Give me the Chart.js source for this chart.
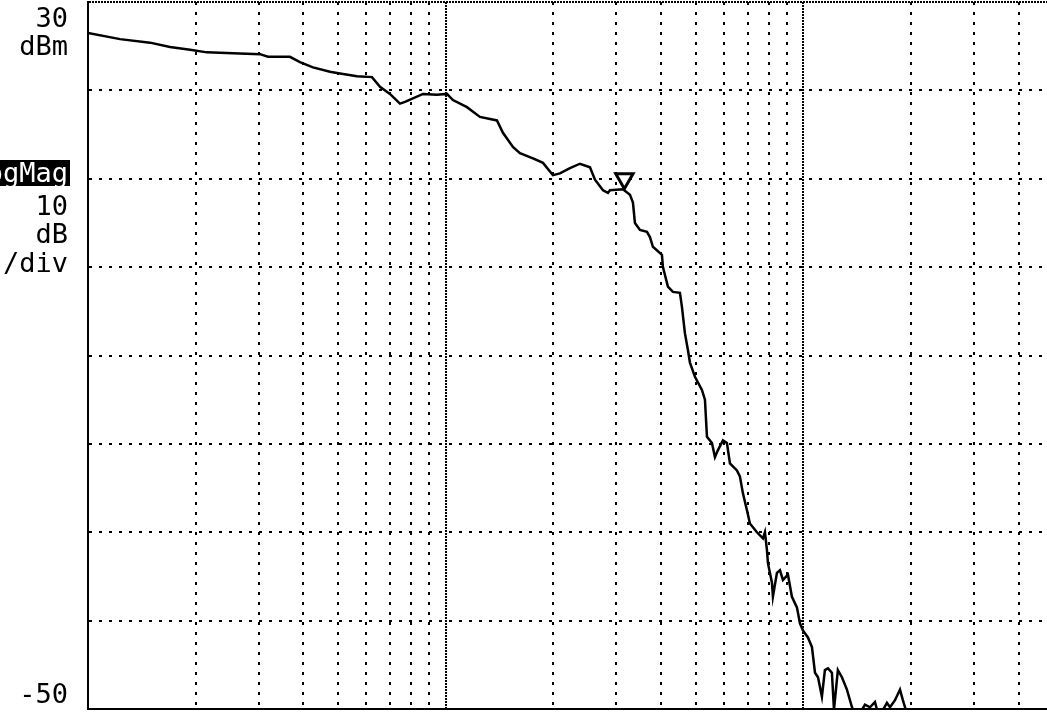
<!DOCTYPE html>
<html>
<head>
<meta charset="utf-8">
<script src="https://cdn.jsdelivr.net/npm/chart.js@4/dist/chart.umd.min.js"></script>
<style>
  html, body { margin: 0; padding: 0; background: #fff; overflow: hidden; }
  #wrap { width: 1047px; height: 715px; overflow: hidden; position: relative; }
  canvas { display: block; }
</style>
</head>
<body>
<div id="wrap">
  <canvas id="traceChart" width="1165" height="715"></canvas>
</div>
<script>
// trace (log frequency, relative units)
const freq = [1.000, 1.229, 1.491, 1.695, 1.929, 2.151, 2.543, 3.026, 3.186, 3.670,
  3.914, 4.256, 4.749, 5.064, 5.649, 6.223, 6.552, 6.986, 7.451, 7.695,
  8.101, 8.642, 9.455, 10.08, 10.48, 11.47, 12.47, 13.91, 14.46, 15.42,
  16.13, 17.54, 18.71, 19.95, 20.87, 22.26, 23.74, 25.32, 26.15, 27.54,
  28.43, 28.80, 31.31, 32.75, 33.39, 33.82, 34.93, 36.54, 37.25, 37.97,
  40.24, 40.50, 41.82, 43.19, 45.19, 45.77, 46.67, 47.58, 48.19, 49.77,
  52.06, 53.08, 53.77, 55.53, 56.61, 57.72, 59.60, 61.15, 62.35, 65.22,
  66.49, 67.78, 69.55, 70.90, 74.18, 77.11, 78.10, 79.11, 79.62, 81.70,
  82.22, 84.37, 86.02, 87.70, 90.57, 92.92, 95.96, 97.84, 99.75, 103.0,
  105.7, 107.8, 109.9, 112.7, 114.9, 117.2, 120.2, 121.8, 124.9, 128.2,
  132.4, 136.8, 139.4, 143.9, 148.7, 153.6, 158.6, 161.7, 167.0, 171.3,
  174.7, 180.4, 186.3, 189.8, 194.8];
const magDb = [26.5, 25.8, 25.4, 24.9, 24.6, 24.3, 24.2, 24.1, 23.8, 23.8,
  23.2, 22.6, 22.1, 21.9, 21.6, 21.5, 20.4, 19.6, 18.5, 18.7,
  19.1, 19.6, 19.5, 19.6, 18.9, 18.1, 17.0, 16.6, 15.2, 13.6,
  12.9, 12.3, 11.8, 10.4, 10.6, 11.2, 11.7, 11.3, 9.9, 8.7,
  8.4, 8.7, 8.8, 8.2, 7.3, 5.0, 4.2, 4.0, 3.4, 2.3,
  1.4, 0.0, -2.2, -2.8, -2.9, -4.5, -7.5, -9.4, -10.8, -12.4,
  -13.9, -15.0, -19.2, -19.9, -21.5, -20.7, -19.6, -19.9, -22.2, -23.0,
  -23.7, -25.6, -27.5, -29.0, -30.0, -30.7, -30.0, -32.0, -33.5, -35.7,
  -37.3, -34.6, -34.3, -35.4, -34.8, -37.3, -38.5, -40.3, -41.1, -41.9,
  -43.0, -45.9, -46.4, -48.6, -45.6, -45.4, -45.9, -50.1, -45.6, -46.4,
  -47.8, -49.8, -50.5, -50.5, -49.5, -49.8, -49.2, -50.5, -50.1, -49.3,
  -49.8, -49.0, -47.8, -49.0, -50.5];

const markerFreq = [31.6];
const markerDb = [10.0];

const xGridValues = [1, 2, 3, 4, 5, 6, 7, 8, 9,
  10, 20, 30, 40, 50, 60, 70, 80, 90,
  100, 200, 300, 400, 500, 600, 700, 800, 900, 1000];
const yTop = 30;
const yBottom = -50;
const yStep = 10;

function isDecade(v) {
  const e = Math.log10(v);
  return Math.abs(e - Math.round(e)) < 1e-9;
}

const sideLabels = {
  id: 'sideLabels',
  afterDraw(chart) {
    const ctx = chart.ctx;
    const area = chart.chartArea;
    const rx = area.left - 20;
    ctx.save();
    ctx.font = '27px "DejaVu Sans Mono"';
    ctx.textAlign = 'right';
    ctx.textBaseline = 'alphabetic';
    ctx.fillStyle = '#000';
    ctx.fillText(String(yTop), rx, 27);
    ctx.fillText('dBm', rx, 55);

    ctx.fillRect(0, 160, rx + 2, 26);
    ctx.fillStyle = '#fff';
    ctx.fillText('LogMag', rx, 182);
    ctx.fillStyle = '#000';
    ctx.fillText(String(yStep), rx, 215);
    ctx.fillText('dB', rx, 243);
    ctx.fillText('/div', rx, 272);
    ctx.fillText(String(yBottom), rx, 703);
    ctx.restore();
  }
};

const ctx = document.getElementById('traceChart').getContext('2d');
new Chart(ctx, {
  type: 'line',
  data: {
    datasets: [{
      label: 'trace',
      data: freq.map((f, i) => ({ x: f, y: magDb[i] })),
      borderColor: '#000',
      borderWidth: 2.5,
      pointRadius: 0,
      tension: 0,
      fill: false
    }, {
      label: 'marker',
      data: markerFreq.map((f, i) => ({ x: f, y: markerDb[i] })),
      showLine: false,
      pointStyle: 'triangle',
      rotation: 180,
      pointRadius: 10,
      pointBorderWidth: 3,
      pointBackgroundColor: '#fff',
      pointBorderColor: '#000'
    }]
  },
  options: {
    responsive: false,
    animation: false,
    devicePixelRatio: 1,
    layout: { autoPadding: false, padding: { left: 88, top: 2, right: 4, bottom: 6 } },
    plugins: { legend: { display: false }, tooltip: { enabled: false } },
    scales: {
      x: {
        type: 'logarithmic',
        min: 1,
        max: 1000,
        afterBuildTicks: scale => {
          scale.ticks = xGridValues.map(v => ({ value: v }));
        },
        ticks: { display: false },
        grid: { color: '#000', lineWidth: 2, drawTicks: false },
        border: {
          color: '#000',
          width: 2,
          dash: c => (c.tick && !isDecade(c.tick.value)) ? [3, 7] : [2, 1]
        }
      },
      y: {
        min: yBottom,
        max: yTop,
        ticks: { display: false, stepSize: yStep },
        grid: { color: '#000', lineWidth: 2, drawTicks: false },
        border: {
          color: '#000',
          width: 2,
          dash: c => (c.tick && c.tick.value !== yTop && c.tick.value !== yBottom) ? [3, 7] : [2, 1]
        }
      }
    }
  },
  plugins: [sideLabels]
});
</script>
</body>
</html>
